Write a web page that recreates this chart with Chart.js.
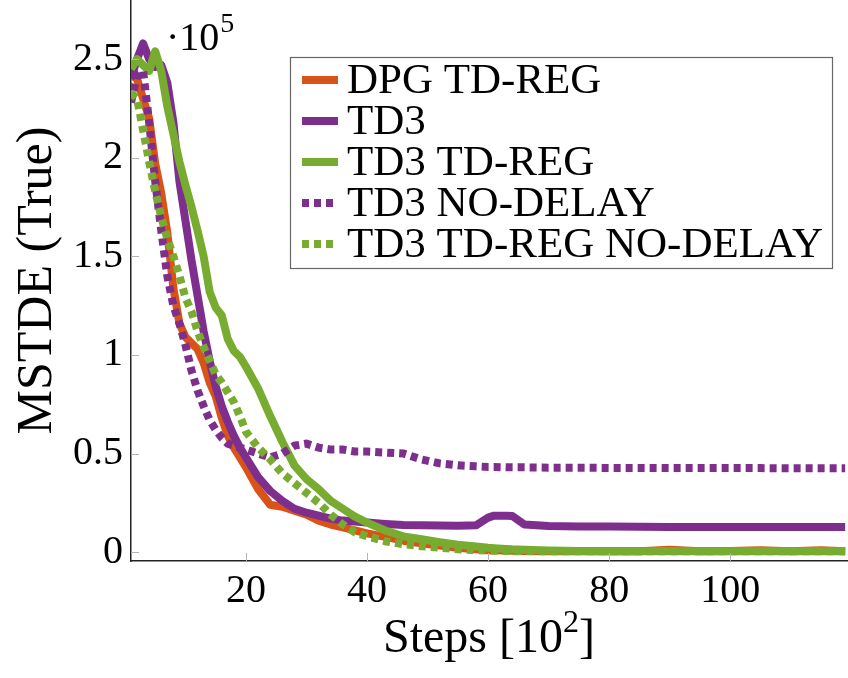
<!DOCTYPE html>
<html>
<head>
<meta charset="utf-8">
<script src="https://cdn.jsdelivr.net/npm/chart.js@4.4.1/dist/chart.umd.min.js"></script>
<style>
  html, body { margin: 0; padding: 0; background: #fff; }
  #wrap { width: 848px; height: 678px; }
</style>
</head>
<body>
<div id="wrap"><canvas id="chart" width="848" height="678"></canvas></div>
<script>
// x positions in units of 10^2 steps, values in units of 10^5
const steps = [1,2,3,4,5,6,7,8,9,10,11,12,13,14,15,16,17,18,19,20,
  22,24,26,28,30,32,34,36,38,40,43,46,49,52,55,58,
  60,61,63,64,66,70,75,80,85,90,95,100,105,110,115,119];

const dpgTdReg = [2.42,2.40,2.30,2.20,1.97,1.82,1.62,1.34,1.16,1.09,1.06,1.03,0.96,0.86,0.79,0.68,0.59,0.53,0.48,0.43,
  0.32,0.24,0.23,0.21,0.19,0.16,0.14,0.125,0.11,0.095,0.077,0.058,0.045,0.033,0.022,0.014,
  0.010,0.009,0.008,0.007,0.006,0.004,0.004,0.004,0.005,0.012,0.004,0.006,0.010,0.004,0.009,0.005];

const td3 = [2.40,2.50,2.58,2.50,2.46,2.47,2.38,2.18,1.88,1.68,1.48,1.30,1.12,0.97,0.84,0.74,0.66,0.59,0.53,0.48,
  0.38,0.31,0.26,0.22,0.20,0.185,0.17,0.16,0.155,0.15,0.143,0.138,0.136,0.135,0.134,0.136,
  0.175,0.185,0.185,0.183,0.14,0.132,0.13,0.13,0.129,0.128,0.128,0.128,0.128,0.127,0.127,0.127];

const td3TdReg = [2.45,2.50,2.47,2.44,2.54,2.44,2.26,2.12,1.98,1.86,1.75,1.63,1.50,1.32,1.24,1.20,1.08,1.02,0.99,0.94,
  0.83,0.69,0.56,0.44,0.37,0.32,0.26,0.22,0.18,0.15,0.11,0.08,0.065,0.05,0.037,0.028,
  0.022,0.02,0.016,0.014,0.012,0.008,0.006,0.005,0.005,0.005,0.005,0.005,0.005,0.005,0.005,0.005];

const td3NoDelay = [2.28,2.42,2.44,2.18,1.88,1.63,1.40,1.25,1.16,1.05,0.92,0.82,0.74,0.67,0.62,0.58,0.55,0.54,0.53,0.52,
  0.50,0.48,0.50,0.54,0.55,0.53,0.52,0.52,0.51,0.51,0.505,0.50,0.47,0.45,0.44,0.435,
  0.432,0.432,0.43,0.43,0.43,0.428,0.428,0.427,0.427,0.426,0.426,0.426,0.426,0.425,0.425,0.425];

const td3TdRegNoDelay = [2.33,2.30,2.14,1.98,1.83,1.70,1.59,1.50,1.40,1.29,1.22,1.12,1.04,0.97,0.90,0.86,0.81,0.76,0.69,0.61,
  0.53,0.47,0.40,0.35,0.30,0.25,0.19,0.14,0.10,0.08,0.055,0.04,0.03,0.022,0.015,0.01,
  0.008,0.007,0.006,0.005,0.005,0.004,0.004,0.004,0.004,0.004,0.004,0.004,0.004,0.004,0.004,0.004];

const seriesNames = ['DPG TD-REG', 'TD3', 'TD3 TD-REG', 'TD3 NO-DELAY', 'TD3 TD-REG NO-DELAY'];
const seriesValues = [dpgTdReg, td3, td3TdReg, td3NoDelay, td3TdRegNoDelay];
const seriesColors = ['#D95319', '#7E2F8E', '#77AC30', '#7E2F8E', '#77AC30'];
const seriesDotted = [false, false, false, true, true];

const yTicks = [0, 0.5, 1, 1.5, 2, 2.5];
const xTicks = [20, 40, 60, 80, 100];

const SERIF = '"Liberation Serif", "DejaVu Serif", serif';

const datasets = seriesNames.map((name, i) => ({
  label: name,
  data: steps.map((s, k) => ({ x: s, y: seriesValues[i][k] })),
  borderColor: seriesColors[i],
  backgroundColor: seriesColors[i],
  borderWidth: 8,
  borderDash: seriesDotted[i] ? [7, 5] : [],
  borderCapStyle: 'butt',
  borderJoinStyle: seriesDotted[i] ? 'miter' : 'round',
  pointRadius: 0,
  tension: 0,
  fill: false,
  order: seriesNames.length - 1 - i   // later series on top, like pgfplots
}));

// extra drawing: inner tick marks, x title with superscript, exponent label, legend box
const extras = {
  id: 'extras',
  afterDraw(chart) {
    const ctx = chart.ctx;
    const area = chart.chartArea;
    const xs = chart.scales.x, ys = chart.scales.y;
    ctx.save();

    // small tick marks inside the axes
    ctx.strokeStyle = '#b4b4b4';
    ctx.lineWidth = 1;
    yTicks.forEach(v => {
      const py = Math.round(ys.getPixelForValue(v)) + 0.5;
      ctx.beginPath(); ctx.moveTo(area.left, py); ctx.lineTo(area.left + 8, py); ctx.stroke();
    });
    xTicks.forEach(v => {
      const px = Math.round(xs.getPixelForValue(v)) + 0.5;
      ctx.beginPath(); ctx.moveTo(px, area.bottom); ctx.lineTo(px, area.bottom - 8); ctx.stroke();
    });

    ctx.fillStyle = '#000';
    ctx.textBaseline = 'alphabetic';

    // x axis title "Steps [10^2]"
    const big = '48px ' + SERIF, sup = '32px ' + SERIF;
    ctx.font = big;
    const a = 'Steps [10', c = ']';
    const wa = ctx.measureText(a).width, wc = ctx.measureText(c).width;
    ctx.font = sup;
    const wb = ctx.measureText('2').width;
    const cx = (area.left + area.right) / 2;
    let x0 = cx - (wa + wb + wc) / 2;
    const base = 652;
    ctx.font = big; ctx.fillText(a, x0, base);
    ctx.font = sup; ctx.fillText('2', x0 + wa, base - 20);
    ctx.font = big; ctx.fillText(c, x0 + wa + wb, base);

    // exponent label "·10^5"
    ctx.font = '40px ' + SERIF;
    const e1 = '\u00B710';
    ctx.fillText(e1, 166, 50);
    const we = ctx.measureText(e1).width;
    ctx.font = '28px ' + SERIF;
    ctx.fillText('5', 166 + we + 1, 32);

    // legend
    const lx = 290, ly = 57, lw = 542, lh = 211;
    ctx.fillStyle = '#fff';
    ctx.fillRect(lx, ly, lw, lh);
    ctx.strokeStyle = '#666';
    ctx.lineWidth = 1.2;
    ctx.strokeRect(lx + 0.5, ly + 0.5, lw, lh);
    ctx.font = '43px ' + SERIF;
    ctx.textBaseline = 'middle';
    chart.data.datasets.forEach((ds, i) => {
      const ry = 80 + i * 41;
      ctx.strokeStyle = ds.borderColor;
      ctx.lineWidth = 8;
      ctx.lineCap = 'butt';
      ctx.setLineDash(ds.borderDash);
      ctx.beginPath(); ctx.moveTo(302, ry); ctx.lineTo(338, ry); ctx.stroke();
      ctx.setLineDash([]);
      ctx.fillStyle = '#000';
      ctx.fillText(ds.label, 347, ry + 2);
    });
    ctx.restore();
  }
};

new Chart(document.getElementById('chart').getContext('2d'), {
  type: 'line',
  data: { datasets: datasets },
  plugins: [extras],
  options: {
    responsive: false,
    animation: false,
    devicePixelRatio: 1,
    layout: { padding: { left: 0, right: 1, top: 0, bottom: 0 } },
    plugins: {
      legend: { display: false },
      tooltip: { enabled: false }
    },
    scales: {
      x: {
        type: 'linear',
        min: 1,
        max: 119.3,
        afterBuildTicks: s => { s.ticks = xTicks.map(v => ({ value: v })); },
        afterFit: s => { s.height = 117; s.paddingLeft = 0; s.paddingRight = 0; },
        grid: { drawOnChartArea: false, drawTicks: false },
        border: { display: true, color: '#222', width: 1.5 },
        ticks: {
          padding: 6,
          color: '#000',
          maxRotation: 0,
          font: { family: SERIF, size: 40 }
        }
      },
      y: {
        type: 'linear',
        min: -0.045,
        max: 2.8,
        afterBuildTicks: s => { s.ticks = yTicks.map(v => ({ value: v })); },
        afterFit: s => { s.width = 131; s.paddingTop = 0; s.paddingBottom = 0; },
        grid: { drawOnChartArea: false, drawTicks: false },
        border: { display: true, color: '#222', width: 1.5 },
        ticks: {
          padding: 8,
          color: '#000',
          font: { family: SERIF, size: 40 },
          callback: v => String(v)
        },
        title: {
          display: true,
          text: 'MSTDE (True)',
          color: '#000',
          font: { family: SERIF, size: 50 },
          padding: { top: 8, bottom: 0 }
        }
      }
    }
  }
});
</script>
</body>
</html>
